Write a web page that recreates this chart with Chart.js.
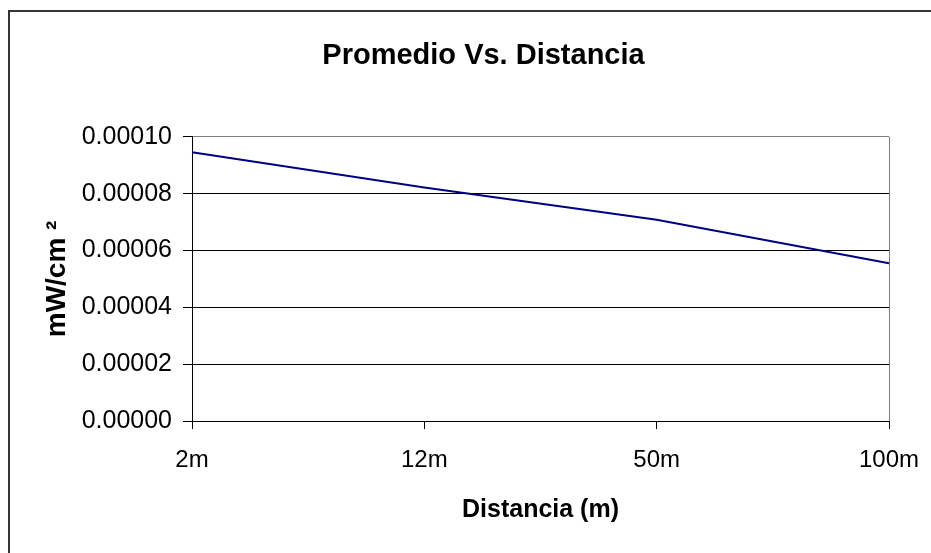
<!DOCTYPE html>
<html>
<head>
<meta charset="utf-8">
<script src="https://cdn.jsdelivr.net/npm/chart.js@4.4.1/dist/chart.umd.min.js"></script>
<style>
  body { margin: 0; background: #fff; }
  #wrap { position: relative; width: 931px; height: 553px; }
  #frame {
    position: absolute; left: 8px; top: 10px; right: 0; bottom: 0;
    border-left: 2px solid #333; border-top: 2px solid #333;
    pointer-events: none;
  }
</style>
</head>
<body>
<div id="wrap">
  <canvas id="promedioChart" width="931" height="553"></canvas>
  <div id="frame"></div>
</div>
<script>
// distances on the x axis
const distancias = ["2m", "12m", "50m", "100m"];
// average power density, mW/cm2
const promedio = [0.0000946, 0.0000822, 0.0000708, 0.0000555];
// y axis ticks
const yMin = 0;
const yMax = 0.0001;
const yStep = 0.00002;

const FONT = "Arial, 'Liberation Sans'";

// the original title sits a bit right of the canvas centre
const shiftTitle = {
  id: "shiftTitle",
  afterLayout(chart) {
    const t = chart.titleBlock;
    if (t) {
      t.left += 24;
      t.right += 24;
    }
  },
};

const ctx = document.getElementById("promedioChart").getContext("2d");

new Chart(ctx, {
  type: "line",
  data: {
    labels: distancias,
    datasets: [
      {
        label: "Promedio",
        data: promedio,
        borderColor: "#000080",
        borderWidth: 2,
        pointRadius: 0,
        tension: 0,
        fill: false,
      },
    ],
  },
  plugins: [shiftTitle],
  options: {
    responsive: false,
    animation: false,
    devicePixelRatio: 1,
    layout: {
      padding: { left: 30, right: 42, top: 0, bottom: 10 },
    },
    plugins: {
      legend: { display: false },
      tooltip: { enabled: false },
      title: {
        display: true,
        text: "Promedio Vs. Distancia",
        color: "#000",
        font: { family: FONT, size: 29, weight: "bold" },
        padding: { top: 39, bottom: 63 },
      },
    },
    scales: {
      x: {
        type: "category",
        offset: false,
        afterFit: (scale) => {
          scale.height = 122;
          // let the layout padding alone decide the plot edges
          scale.paddingLeft = 0;
          scale.paddingRight = 0;
        },
        grid: {
          offset: false,
          drawOnChartArea: true,
          // only the right edge of the plot gets a (gray) line
          color: (c) => (c.index === distancias.length - 1 ? "#808080" : "rgba(0,0,0,0)"),
          tickColor: "#000",
          tickLength: 8,
          lineWidth: 1,
        },
        border: { color: "#000", width: 1 },
        ticks: {
          color: "#000",
          font: { family: FONT, size: 24 },
          padding: 17,
          maxRotation: 0,
        },
        title: {
          display: true,
          text: "Distancia (m)",
          color: "#000",
          font: { family: FONT, size: 25, weight: "bold" },
          padding: { top: 0, bottom: 18 },
        },
      },
      y: {
        min: yMin,
        max: yMax,
        afterFit: (scale) => {
          scale.width = 162;
        },
        grid: {
          color: (c) => (c.tick && c.tick.value >= yMax ? "#808080" : "#000"),
          tickColor: "#000",
          tickLength: 9,
          lineWidth: 1,
        },
        border: { color: "#000", width: 1 },
        ticks: {
          stepSize: yStep,
          color: "#000",
          font: { family: FONT, size: 25 },
          padding: 11,
          callback: (v) => Number(v).toFixed(5),
        },
        title: {
          display: true,
          text: "mW/cm ²",
          color: "#000",
          font: { family: FONT, size: 28, weight: "bold" },
          padding: { top: 10, bottom: 0 },
        },
      },
    },
  },
});
</script>
</body>
</html>
